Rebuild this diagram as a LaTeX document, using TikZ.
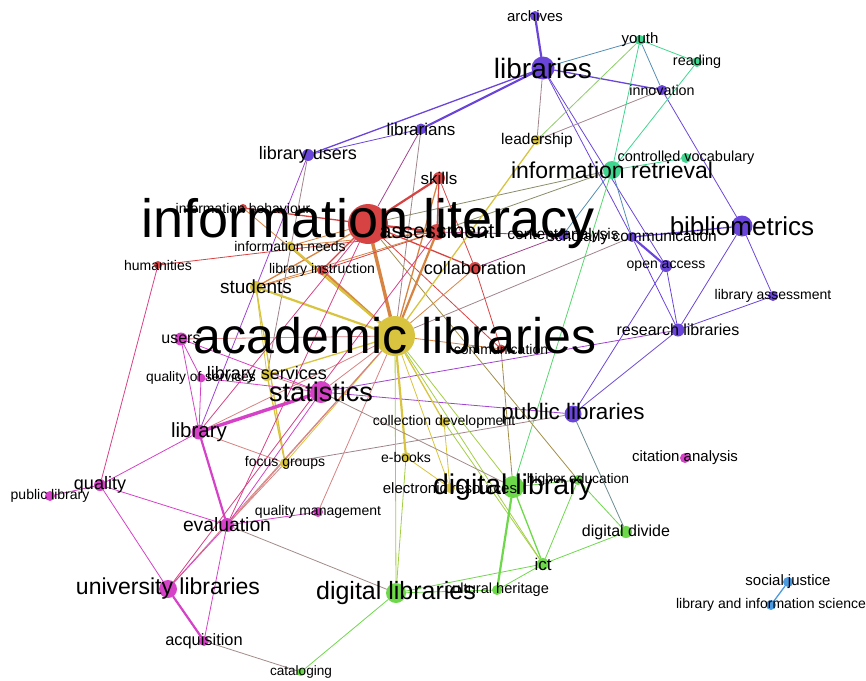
\documentclass[tikz,border=0pt]{standalone}
\usepackage{fontspec}
\setmainfont{Liberation Sans}
\usepackage{tikz}
\pgfdeclarelayer{bg}
\pgfsetlayers{bg,main}
\definecolor{clRed}{HTML}{D74343}
\definecolor{clYel}{HTML}{D8C43E}
\definecolor{clPur}{HTML}{6A45D9}
\definecolor{clTea}{HTML}{40D690}
\definecolor{clMag}{HTML}{D541C7}
\definecolor{clGrn}{HTML}{6ED84B}
\definecolor{clBlu}{HTML}{4C9BE0}
\newcommand\fs[1]{\fontsize{#1}{#1}\selectfont}
\tikzset{
  dot/.style={circle, inner sep=0pt, draw=none, fill=#1},
  tag/.style={inner sep=0pt, text=black},
  ln/.style 2 args={draw=#1!50!#2, line cap=round},
  e1/.style={line width=0.8pt},
  e2/.style={line width=1.3pt},
  e3/.style={line width=2.2pt},
  e4/.style={line width=3.4pt}
}

\begin{document}
\begin{tikzpicture}[x=1pt, y=-1pt]
			%%%%% START %%%%%
			\useasboundingbox (0,0) rectangle (866,680);
			
			% red
			\node[dot=clRed, minimum size=40pt] (inflit) at (368,224) {};
			\node[dot=clRed, minimum size=16pt] (assess) at (437,232) {};
			\node[dot=clRed, minimum size=12pt] (skills) at (439,178) {};
			\node[dot=clRed, minimum size=12pt] (collab) at (475,268) {};
			\node[dot=clRed, minimum size=8pt] (infbeh) at (243,208) {};
			\node[dot=clRed, minimum size=10pt] (libins) at (322,270) {};
			\node[dot=clRed, minimum size=8pt] (human) at (158,265) {};
			\node[dot=clRed, minimum size=9pt] (commu) at (501,349) {};
			
			% yellow
			\node[dot=clYel, minimum size=40pt] (acadlib) at (395,336) {};
			\node[dot=clYel, minimum size=9pt] (infneed) at (290,246) {};
			\node[dot=clYel, minimum size=12pt] (students) at (256,287) {};
			\node[dot=clYel, minimum size=12pt] (libserv) at (267,375) {};
			\node[dot=clYel, minimum size=10pt] (focus) at (285,463) {};
			\node[dot=clYel, minimum size=10pt] (colldev) at (444,422) {};
			\node[dot=clYel, minimum size=10pt] (ebooks) at (406,457) {};
			\node[dot=clYel, minimum size=10pt] (elres) at (450,488) {};
			\node[dot=clYel, minimum size=10pt] (leader) at (537,140) {};
			
			% purple
			\node[dot=clPur, minimum size=23pt] (libs) at (543,68) {};
			\node[dot=clPur, minimum size=10pt] (archiv) at (535,16) {};
			\node[dot=clPur, minimum size=11pt] (libns) at (421,129) {};
			\node[dot=clPur, minimum size=12pt] (libusr) at (308,155) {};
			\node[dot=clPur, minimum size=10pt] (innov) at (662,90) {};
			\node[dot=clPur, minimum size=11pt] (contan) at (563,235) {};
			\node[dot=clPur, minimum size=10pt] (schol) at (632,237) {};
			\node[dot=clPur, minimum size=21pt] (biblio) at (742,226) {};
			\node[dot=clPur, minimum size=12pt] (openac) at (666,266) {};
			\node[dot=clPur, minimum size=10pt] (libass) at (773,296) {};
			\node[dot=clPur, minimum size=13pt] (reslib) at (678,330) {};
			\node[dot=clPur, minimum size=17pt] (publibs) at (573,414) {};
			
			% teal
			\node[dot=clTea, minimum size=10pt] (youth) at (640,40) {};
			\node[dot=clTea, minimum size=10pt] (reading) at (697,62) {};
			\node[dot=clTea, minimum size=10pt] (convoc) at (686,158) {};
			\node[dot=clTea, minimum size=18pt] (infret) at (612,170) {};
			
			% magenta
			\node[dot=clMag, minimum size=22pt] (stats) at (321,392) {};
			\node[dot=clMag, minimum size=13pt] (users) at (181,339) {};
			\node[dot=clMag, minimum size=9pt] (qualserv) at (201,378) {};
			\node[dot=clMag, minimum size=15pt] (library) at (199,432) {};
			\node[dot=clMag, minimum size=12pt] (quality) at (100,485) {};
			\node[dot=clMag, minimum size=10pt] (publib) at (50,496) {};
			\node[dot=clMag, minimum size=14pt] (evalu) at (227,525) {};
			\node[dot=clMag, minimum size=10pt] (qualman) at (318,512) {};
			\node[dot=clMag, minimum size=18pt] (unilib) at (168,589) {};
			\node[dot=clMag, minimum size=10pt] (acqui) at (204,641) {};
			\node[dot=clMag, minimum size=10pt] (citan) at (685,458) {};
			
			% green
			\node[dot=clGrn, minimum size=22pt] (diglib) at (513,487) {};
			\node[dot=clGrn, minimum size=10pt] (hiedu) at (578,480) {};
			\node[dot=clGrn, minimum size=12pt] (digdiv) at (626,532) {};
			\node[dot=clGrn, minimum size=12pt] (ict) at (543,564) {};
			\node[dot=clGrn, minimum size=10pt] (culher) at (497,590) {};
			\node[dot=clGrn, minimum size=20pt] (diglibs) at (396,593) {};
			\node[dot=clGrn, minimum size=8pt] (catal) at (301,672) {};
			
			% blue
			\node[dot=clBlu, minimum size=10pt] (socjus) at (788,582) {};
			\node[dot=clBlu, minimum size=10pt] (lis) at (771,605) {};
			
			% links
			\begin{pgfonlayer}{bg}
			\draw[ln={clPur}{clPur}, e3] (libs) -- (archiv);
			\draw[ln={clPur}{clPur}, e3] (libs) -- (libns);
			\draw[ln={clPur}{clPur}, e2] (libs) -- (libusr);
			\draw[ln={clPur}{clPur}, e2] (libs) -- (innov);
			\draw[ln={clPur}{clTea}, e1] (libs) -- (youth);
			\draw[ln={clPur}{clYel}, e1] (libs) -- (leader);
			\draw[ln={clPur}{clPur}, e1] (libs) -- (schol);
			\draw[ln={clPur}{clPur}, e1] (libs) -- (openac);
			\draw[ln={clPur}{clPur}, e1] (libns) -- (libusr);
			\draw[ln={clPur}{clYel}, e1] (libns) -- (acadlib);
			\draw[ln={clPur}{clRed}, e1] (libns) -- (inflit);
			\draw[ln={clPur}{clMag}, e1] (libusr) -- (library);
			\draw[ln={clPur}{clYel}, e1] (libusr) -- (libserv);
			\draw[ln={clPur}{clPur}, e1] (innov) -- (biblio);
			\draw[ln={clPur}{clYel}, e1] (innov) -- (leader);
			\draw[ln={clPur}{clTea}, e1] (innov) -- (youth);
			\draw[ln={clPur}{clRed}, e1] (contan) -- (assess);
			\draw[ln={clPur}{clRed}, e1] (contan) -- (collab);
			\draw[ln={clPur}{clTea}, e1] (contan) -- (infret);
			\draw[ln={clPur}{clPur}, e2] (schol) -- (biblio);
			\draw[ln={clPur}{clPur}, e3] (schol) -- (openac);
			\draw[ln={clPur}{clPur}, e1] (schol) -- (reslib);
			\draw[ln={clPur}{clYel}, e1] (schol) -- (acadlib);
			\draw[ln={clPur}{clTea}, e1] (schol) -- (infret);
			\draw[ln={clPur}{clPur}, e1] (openac) -- (reslib);
			\draw[ln={clPur}{clPur}, e1] (openac) -- (publibs);
			\draw[ln={clPur}{clPur}, e1] (biblio) -- (reslib);
			\draw[ln={clPur}{clPur}, e1] (biblio) -- (libass);
			\draw[ln={clPur}{clPur}, e1] (libass) -- (reslib);
			\draw[ln={clPur}{clPur}, e1] (reslib) -- (publibs);
			\draw[ln={clPur}{clMag}, e1] (reslib) -- (stats);
			\draw[ln={clPur}{clMag}, e1] (publibs) -- (stats);
			\draw[ln={clPur}{clYel}, e1] (publibs) -- (focus);
			\draw[ln={clPur}{clGrn}, e1] (publibs) -- (digdiv);
			
			\draw[ln={clTea}{clTea}, e1] (youth) -- (reading);
			\draw[ln={clTea}{clTea}, e1] (youth) -- (infret);
			\draw[ln={clTea}{clYel}, e1] (youth) -- (leader);
			\draw[ln={clTea}{clTea}, e1] (reading) -- (infret);
			\draw[ln={clTea}{clTea}, e1] (convoc) -- (infret);
			\draw[ln={clTea}{clRed}, e1] (infret) -- (inflit);
			\draw[ln={clTea}{clRed}, e1] (infret) -- (assess);
			\draw[ln={clTea}{clGrn}, e1] (infret) -- (diglib);
			
			\draw[ln={clRed}{clRed}, e3] (inflit) -- (skills);
			\draw[ln={clRed}{clRed}, e3] (inflit) -- (assess);
			\draw[ln={clRed}{clRed}, e2] (inflit) -- (collab);
			\draw[ln={clRed}{clRed}, e2] (inflit) -- (infbeh);
			\draw[ln={clRed}{clRed}, e2] (inflit) -- (libins);
			\draw[ln={clRed}{clYel}, e4] (inflit) -- (acadlib);
			\draw[ln={clRed}{clYel}, e2] (inflit) -- (students);
			\draw[ln={clRed}{clYel}, e1] (inflit) -- (infneed);
			\draw[ln={clRed}{clGrn}, e1] (inflit) -- (hiedu);
			\draw[ln={clRed}{clRed}, e1] (inflit) -- (commu);
			\draw[ln={clRed}{clYel}, e2] (skills) -- (acadlib);
			\draw[ln={clRed}{clRed}, e2] (skills) -- (assess);
			\draw[ln={clRed}{clRed}, e1] (skills) -- (collab);
			\draw[ln={clRed}{clYel}, e3] (assess) -- (acadlib);
			\draw[ln={clRed}{clRed}, e1] (assess) -- (libins);
			\draw[ln={clRed}{clYel}, e1] (assess) -- (infneed);
			\draw[ln={clRed}{clRed}, e1] (assess) -- (human);
			\draw[ln={clRed}{clYel}, e1] (assess) -- (students);
			\draw[ln={clRed}{clYel}, e1] (collab) -- (acadlib);
			\draw[ln={clRed}{clRed}, e1] (collab) -- (commu);
			\draw[ln={clRed}{clYel}, e1] (commu) -- (acadlib);
			\draw[ln={clRed}{clGrn}, e1] (commu) -- (diglib);
			\draw[ln={clRed}{clYel}, e1] (infbeh) -- (acadlib);
			\draw[ln={clRed}{clMag}, e1] (human) -- (quality);
			\draw[ln={clRed}{clYel}, e3] (libins) -- (acadlib);
			\draw[ln={clRed}{clYel}, e1] (libins) -- (students);
			
			\draw[ln={clYel}{clYel}, e3] (acadlib) -- (students);
			\draw[ln={clYel}{clYel}, e3] (acadlib) -- (infneed);
			\draw[ln={clYel}{clYel}, e2] (acadlib) -- (libserv);
			\draw[ln={clYel}{clYel}, e1] (acadlib) -- (focus);
			\draw[ln={clYel}{clYel}, e2] (acadlib) -- (colldev);
			\draw[ln={clYel}{clYel}, e3] (acadlib) -- (ebooks);
			\draw[ln={clYel}{clYel}, e1] (acadlib) -- (elres);
			\draw[ln={clYel}{clYel}, e2] (acadlib) -- (leader);
			\draw[ln={clYel}{clGrn}, e1] (acadlib) -- (diglib);
			\draw[ln={clYel}{clGrn}, e1] (acadlib) -- (diglibs);
			\draw[ln={clYel}{clGrn}, e1] (acadlib) -- (ict);
			\draw[ln={clYel}{clMag}, e1] (acadlib) -- (stats);
			\draw[ln={clYel}{clMag}, e1] (acadlib) -- (users);
			\draw[ln={clYel}{clMag}, e1] (acadlib) -- (library);
			\draw[ln={clYel}{clMag}, e1] (acadlib) -- (evalu);
			\draw[ln={clYel}{clMag}, e1] (acadlib) -- (unilib);
			\draw[ln={clYel}{clMag}, e1] (acadlib) -- (qualman);
			\draw[ln={clYel}{clYel}, e1] (students) -- (libserv);
			\draw[ln={clYel}{clYel}, e2] (students) -- (focus);
			\draw[ln={clYel}{clYel}, e2] (libserv) -- (focus);
			\draw[ln={clYel}{clMag}, e1] (libserv) -- (stats);
			\draw[ln={clYel}{clYel}, e1] (ebooks) -- (elres);
			\draw[ln={clYel}{clGrn}, e1] (ebooks) -- (diglibs);
			\draw[ln={clYel}{clYel}, e1] (colldev) -- (elres);
			\draw[ln={clYel}{clGrn}, e1] (colldev) -- (ict);
			\draw[ln={clYel}{clMag}, e1] (focus) -- (library);
			\draw[ln={clYel}{clMag}, e1] (focus) -- (evalu);
			
			\draw[ln={clMag}{clMag}, e4] (stats) -- (library);
			\draw[ln={clMag}{clMag}, e1] (stats) -- (users);
			\draw[ln={clMag}{clMag}, e1] (stats) -- (qualserv);
			\draw[ln={clMag}{clMag}, e1] (stats) -- (evalu);
			\draw[ln={clMag}{clGrn}, e1] (stats) -- (diglib);
			\draw[ln={clMag}{clMag}, e1] (users) -- (library);
			\draw[ln={clMag}{clMag}, e1] (users) -- (qualserv);
			\draw[ln={clMag}{clMag}, e1] (qualserv) -- (library);
			\draw[ln={clMag}{clMag}, e1] (library) -- (quality);
			\draw[ln={clMag}{clMag}, e3] (library) -- (evalu);
			\draw[ln={clMag}{clRed}, e1] (library) -- (inflit);
			\draw[ln={clMag}{clMag}, e1] (quality) -- (publib);
			\draw[ln={clMag}{clMag}, e1] (quality) -- (evalu);
			\draw[ln={clMag}{clMag}, e1] (quality) -- (unilib);
			\draw[ln={clMag}{clMag}, e1] (evalu) -- (unilib);
			\draw[ln={clMag}{clMag}, e1] (evalu) -- (acqui);
			\draw[ln={clMag}{clMag}, e1] (evalu) -- (qualman);
			\draw[ln={clMag}{clGrn}, e1] (evalu) -- (diglibs);
			\draw[ln={clMag}{clRed}, e1] (evalu) -- (inflit);
			\draw[ln={clMag}{clRed}, e1] (unilib) -- (assess);
			\draw[ln={clMag}{clMag}, e3] (unilib) -- (acqui);
			\draw[ln={clMag}{clGrn}, e1] (acqui) -- (catal);
			
			\draw[ln={clGrn}{clGrn}, e3] (diglib) -- (culher);
			\draw[ln={clGrn}{clGrn}, e2] (diglib) -- (ict);
			\draw[ln={clGrn}{clGrn}, e1] (diglib) -- (hiedu);
			\draw[ln={clGrn}{clGrn}, e1] (hiedu) -- (digdiv);
			\draw[ln={clGrn}{clGrn}, e1] (hiedu) -- (ict);
			\draw[ln={clGrn}{clGrn}, e1] (digdiv) -- (ict);
			\draw[ln={clGrn}{clGrn}, e1] (ict) -- (culher);
			\draw[ln={clGrn}{clGrn}, e1] (ict) -- (diglibs);
			\draw[ln={clGrn}{clGrn}, e1] (culher) -- (diglibs);
			\draw[ln={clGrn}{clGrn}, e1] (diglibs) -- (catal);
			
			\draw[ln={clBlu}{clBlu}, e2] (socjus) -- (lis);
			\end{pgfonlayer}
			
			% labels
			\node[tag, font=\fs{54}] (inflit-t) at (inflit) {information literacy};
			\node[tag, font=\fs{21.5}] (assess-t) at (assess) {assessment};
			\node[tag, font=\fs{17}] (skills-t) at (skills) {skills};
			\node[tag, font=\fs{18}] (collab-t) at (collab) {collaboration};
			\node[tag, font=\fs{14}] (infbeh-t) at (infbeh) {information behaviour};
			\node[tag, font=\fs{14}] (libins-t) at (libins) {library instruction};
			\node[tag, font=\fs{14}] (human-t) at (human) {humanities};
			\node[tag, font=\fs{14}] (commu-t) at (commu) {communication};
			
			\node[tag, font=\fs{50}] (acadlib-t) at (acadlib) {academic libraries};
			\node[tag, font=\fs{14}] (infneed-t) at (infneed) {information needs};
			\node[tag, font=\fs{19}] (students-t) at (students) {students};
			\node[tag, font=\fs{18}] (libserv-t) at (libserv) {library services};
			\node[tag, font=\fs{14}] (focus-t) at (focus) {focus groups};
			\node[tag, font=\fs{14}] (colldev-t) at (colldev) {collection development};
			\node[tag, font=\fs{14}] (ebooks-t) at (ebooks) {e-books};
			\node[tag, font=\fs{15}] (elres-t) at (elres) {electronic resources};
			\node[tag, font=\fs{15.5}] (leader-t) at (leader) {leadership};
			
			\node[tag, font=\fs{28}] (libs-t) at (libs) {libraries};
			\node[tag, font=\fs{15}] (archiv-t) at (archiv) {archives};
			\node[tag, font=\fs{17}] (libns-t) at (libns) {librarians};
			\node[tag, font=\fs{18}] (libusr-t) at (libusr) {library users};
			\node[tag, font=\fs{14.3}] (innov-t) at (innov) {innovation};
			\node[tag, font=\fs{15.5}] (contan-t) at (contan) {content analysis};
			\node[tag, font=\fs{15.5}] (schol-t) at (schol) {scholarly communication};
			\node[tag, font=\fs{26}] (biblio-t) at (biblio) {bibliometrics};
			\node[tag, font=\fs{14}] (openac-t) at (openac) {open access};
			\node[tag, font=\fs{14}] (libass-t) at (libass) {library assessment};
			\node[tag, font=\fs{16}] (reslib-t) at (reslib) {research libraries};
			\node[tag, font=\fs{22.4}] (publibs-t) at (publibs) {public libraries};
			
			\node[tag, font=\fs{15}] (youth-t) at (youth) {youth};
			\node[tag, font=\fs{14.4}] (reading-t) at (reading) {reading};
			\node[tag, font=\fs{14.5}] (convoc-t) at (convoc) {controlled vocabulary};
			\node[tag, font=\fs{23}] (infret-t) at (infret) {information retrieval};
			
			\node[tag, font=\fs{27}] (stats-t) at (stats) {statistics};
			\node[tag, font=\fs{16}] (users-t) at (users) {users};
			\node[tag, font=\fs{13.8}] (qualserv-t) at (qualserv) {quality of services};
			\node[tag, font=\fs{20.5}] (library-t) at (library) {library};
			\node[tag, font=\fs{18}] (quality-t) at (quality) {quality};
			\node[tag, font=\fs{14}] (publib-t) at (publib) {public library};
			\node[tag, font=\fs{19.3}] (evalu-t) at (evalu) {evaluation};
			\node[tag, font=\fs{14}] (qualman-t) at (qualman) {quality management};
			\node[tag, font=\fs{23}] (unilib-t) at (unilib) {university libraries};
			\node[tag, font=\fs{16.4}] (acqui-t) at (acqui) {acquisition};
			\node[tag, font=\fs{15}] (citan-t) at (citan) {citation analysis};
			
			\node[tag, font=\fs{28.5}] (diglib-t) at (diglib) {digital library};
			\node[tag, font=\fs{13.8}] (hiedu-t) at (hiedu) {higher education};
			\node[tag, font=\fs{16}] (digdiv-t) at (digdiv) {digital divide};
			\node[tag, font=\fs{17}] (ict-t) at (ict) {ict};
			\node[tag, font=\fs{14.6}] (culher-t) at (culher) {cultural heritage};
			\node[tag, font=\fs{25}] (diglibs-t) at (diglibs) {digital libraries};
			\node[tag, font=\fs{13.6}] (catal-t) at (catal) {cataloging};
			
			\node[tag, font=\fs{15}] (socjus-t) at (socjus) {social justice};
			\node[tag, font=\fs{14}] (lis-t) at (lis) {library and information science};
			
			%%%%% END %%%%%
\end{tikzpicture}
\end{document}
